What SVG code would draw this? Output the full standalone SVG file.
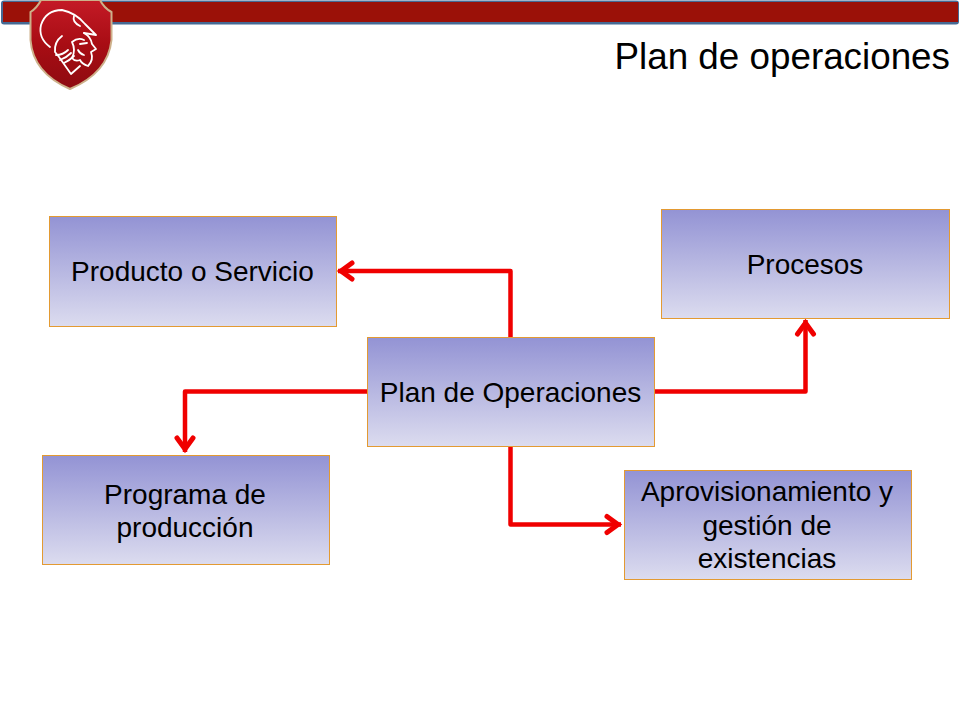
<svg xmlns="http://www.w3.org/2000/svg" width="960" height="720" viewBox="0 0 960 720">
<defs>
<linearGradient id="boxFill" x1="0" y1="0" x2="0" y2="1"><stop offset="0" stop-color="#9393d4"/><stop offset="1" stop-color="#dcdcef"/></linearGradient>
<linearGradient id="shield" x1="0" y1="0" x2="0" y2="1"><stop offset="0" stop-color="#c41a26"/><stop offset="0.5" stop-color="#a80d14"/><stop offset="1" stop-color="#8e0a10"/></linearGradient>
<marker id="arrow" markerUnits="userSpaceOnUse" markerWidth="24" markerHeight="24" refX="17" refY="12" orient="auto" overflow="visible"><path d="M 3 4 L 14 12 L 3 20" fill="none" stroke="#f00000" stroke-width="5" stroke-linecap="round" stroke-linejoin="miter"/></marker>
</defs>
<style>
.box{fill:url(#boxFill);stroke:#e39a32;stroke-width:1}
.lbl{font-family:"Liberation Sans",Arial,sans-serif;font-size:28px;fill:#000;text-anchor:middle}
.conn{fill:none;stroke:#f00000;stroke-width:4.500;stroke-linejoin:round;marker-end:url(#arrow)}
</style>
<g id="header-bar">
<rect x="1" y="0.5" width="958" height="24" rx="3" fill="#456a94"/>
<rect x="3" y="2" width="955" height="20" fill="#9b1108"/>
</g>
<g id="logo">
<path d="M 41 0 Q 37 8 30.500 12 L 30.500 40 Q 33 73 70 89 Q 108 73 111.500 40 L 111.500 12 Q 104 8 100 0 Z" fill="url(#shield)" stroke="#cdb08a" stroke-width="2"/>
<g fill="none" stroke="#fff" stroke-width="1.800" stroke-linejoin="round" stroke-linecap="round">
<path d="M 50 47 Q 38 38 41 25 Q 46 10 62 10 Q 76 13 85 24 L 96 35 L 84 33"/>
<path d="M 74 16 Q 72 22 80 26"/>
<path d="M 62 36 Q 54 42 55 52 L 59 57 L 71 74 L 80 66"/>
<path d="M 56 55 Q 63 55 68 50 M 60 60 Q 66 58 71 53 M 64 63 Q 70 60 74 56"/>
<path d="M 84 33 Q 91 37 92 44 L 96 49 L 91 52 Q 94 60 88 66 Q 82 64 80 60 Q 75 62 72 58 Q 76 50 72 42 Q 78 37 84 40"/>
<path d="M 80 44 L 87 43 M 78 50 Q 80 54 84 55"/>
</g>
</g>
<g id="title"><text x="950" y="69" font-family="'Liberation Sans',Arial,sans-serif" font-size="36.800" fill="#000" text-anchor="end">Plan de operaciones</text></g>
<g id="connectors">
<path class="conn" d="M 510.500 337 V 271 H 338"/>
<path class="conn" d="M 655 391.500 H 805.500 V 320"/>
<path class="conn" d="M 367 391.500 H 185 V 452"/>
<path class="conn" d="M 510.500 447 V 524.500 H 621"/>
</g>
<g id="node-producto"><rect class="box" x="49.500" y="216.500" width="287" height="110"/><text class="lbl" x="192.500" y="281">Producto o Servicio</text></g>
<g id="node-procesos"><rect class="box" x="661.500" y="209.500" width="288" height="109"/><text class="lbl" x="805" y="274">Procesos</text></g>
<g id="node-plan"><rect class="box" x="367.500" y="337.500" width="287" height="109"/><text class="lbl" x="510.500" y="402">Plan de Operaciones</text></g>
<g id="node-programa"><rect class="box" x="42.500" y="455.500" width="287" height="109"/><text class="lbl" x="185" y="504">Programa de</text><text class="lbl" x="185" y="537">producción</text></g>
<g id="node-aprovisionamiento"><rect class="box" x="624.500" y="470.500" width="287" height="109"/><text class="lbl" x="767" y="501">Aprovisionamiento y</text><text class="lbl" x="767" y="535">gestión de</text><text class="lbl" x="767" y="568">existencias</text></g>
</svg>
